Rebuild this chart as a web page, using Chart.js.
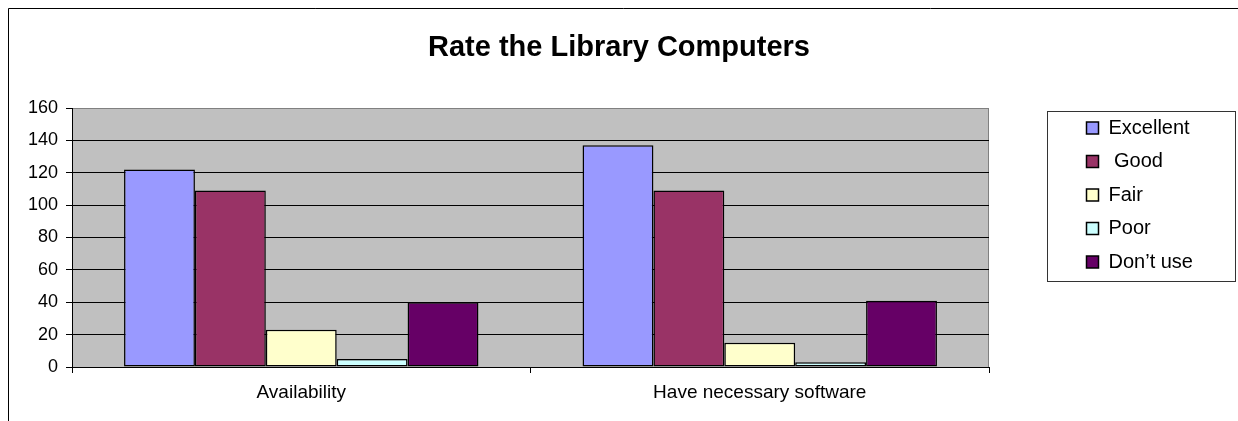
<!DOCTYPE html>
<html>
<head>
<meta charset="utf-8">
<title>Rate the Library Computers</title>
<script src="https://cdn.jsdelivr.net/npm/chart.js@4/dist/chart.umd.min.js"></script>
<style>
  html, body { margin: 0; padding: 0; background: #fff; }
  canvas { display: block; }
</style>
</head>
<body>
<canvas id="libraryChart" width="1238" height="421"></canvas>
<script>
const categories = ["Availability", "Have necessary software"];
const seriesNames = ["Excellent", " Good", "Fair", "Poor", "Don\u2019t use"];
const excellent = [122, 137];
const good = [109, 109];
const fair = [23, 15];
const poor = [5, 3];
const dontUse = [40, 41];
const yMin = 0;
const yMax = 160;
const yStep = 20;

const seriesValues = [excellent, good, fair, poor, dontUse];
const seriesColors = ["#9999ff", "#993366", "#ffffcc", "#ccffff", "#660066"];

const FONT = "'Liberation Sans', Arial, sans-serif";

// grey plot area, frame round the whole chart, box round the legend
const chartFrame = {
      id: "chartFrame",
      beforeInit(chart) {
            const legend = chart.legend;
            if (!legend) return;
            const fit = legend.fit;
            legend.fit = function () {
                  fit.call(this);
                  this.width = 249;
            };
      },
      afterLayout(chart) {
            const legend = chart.legend;
            legend.left = chart.chartArea.right + 84;
            legend.right = legend.left + 165;
            legend.top = 104.5;
            legend.bottom = 290;
      },
      beforeDraw(chart) {
            const { ctx, chartArea: a } = chart;
            ctx.save();
            ctx.fillStyle = "#ffffff";
            ctx.fillRect(0, 0, chart.width, chart.height);
            ctx.fillStyle = "#c0c0c0";
            ctx.fillRect(a.left, a.top, a.right - a.left, a.bottom - a.top);
            ctx.strokeStyle = "#808080";
            ctx.lineWidth = 1;
            ctx.beginPath();
            ctx.moveTo(a.left, a.top + 0.5);
            ctx.lineTo(a.right - 0.5, a.top + 0.5);
            ctx.lineTo(a.right - 0.5, a.bottom);
            ctx.stroke();
            ctx.strokeStyle = "#000000";
            ctx.beginPath();
            ctx.moveTo(8.5, chart.height);
            ctx.lineTo(8.5, 8.5);
            ctx.lineTo(chart.width, 8.5);
            ctx.stroke();
            ctx.restore();
      },
      afterDraw(chart) {
            const { ctx, legend } = chart;
            ctx.save();
            ctx.strokeStyle = "#333333";
            ctx.lineWidth = 1;
            ctx.strokeRect(legend.left - 26 + 0.5, 111.5, 188, 170);
            ctx.restore();
      },
};

new Chart(document.getElementById("libraryChart"), {
      type: "bar",
      data: {
            labels: categories,
            datasets: seriesNames.map((name, i) => ({
                  label: name,
                  data: seriesValues[i],
                  backgroundColor: seriesColors[i],
                  borderColor: "#000000",
                  borderWidth: 1.5,
                  borderSkipped: false,
                  categoryPercentage: 0.773,
                  barPercentage: 1,
            })),
      },
      options: {
            responsive: false,
            animation: false,
            devicePixelRatio: 1,
            layout: { padding: 0 },
            plugins: {
                  title: {
                        display: true,
                        text: "Rate the Library Computers",
                        color: "#000000",
                        font: { family: FONT, size: 29, weight: "bold" },
                        padding: { top: 30.6, bottom: 42.6 },
                  },
                  legend: {
                        position: "right",
                        align: "start",
                        labels: {
                              color: "#000000",
                              font: { family: FONT, size: 20 },
                              boxWidth: 12,
                              boxHeight: 12,
                              padding: 13.5,
                        },
                  },
                  tooltip: { enabled: false },
            },
            scales: {
                  x: {
                        grid: {
                              offset: true,
                              drawOnChartArea: false,
                              drawTicks: true,
                              tickLength: 6,
                              color: "#000000",
                        },
                        border: { color: "#000000", width: 1 },
                        ticks: {
                              color: "#000000",
                              font: { family: FONT, size: 19 },
                              padding: 8,
                        },
                        afterFit(scale) {
                              scale.height = 54;
                        },
                  },
                  y: {
                        min: yMin,
                        max: yMax,
                        grid: {
                              color: (c) => (c.tick && c.tick.value === yMax ? "#808080" : "#000000"),
                              tickColor: "#000000",
                              tickLength: 6,
                        },
                        border: { color: "#000000", width: 1 },
                        ticks: {
                              stepSize: yStep,
                              color: "#000000",
                              font: { family: FONT, size: 18 },
                              padding: 8,
                        },
                        afterFit(scale) {
                              scale.width = 72;
                        },
                  },
            },
      },
      plugins: [chartFrame],
});
</script>
</body>
</html>
